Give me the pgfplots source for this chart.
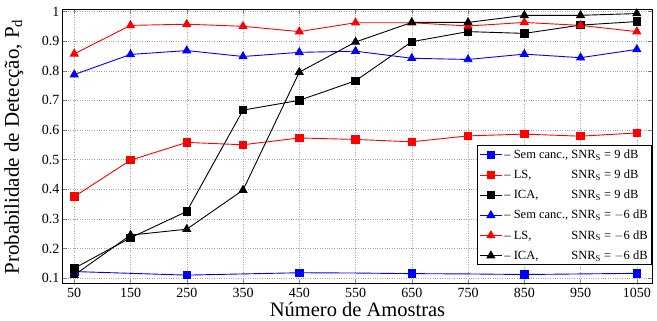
\documentclass[border=0pt]{standalone}
\usepackage{pgfplots}
\pgfplotsset{compat=1.18}
\usepackage{fontspec}
\setmainfont{Liberation Serif}
\newcommand{\legtxt}[2]{\setbox0\hbox{-- Sem canc.,\ }\makebox[\wd0][l]{-- #1}SNR$_{\mathrm{S}}$ = #2 dB}
\begin{document}
\begin{tikzpicture}
\path[use as bounding box] (-63pt,-37pt) rectangle (594pt,284pt);
\begin{axis}[
  at={(0,0)}, anchor=south west,
  width=589pt, height=274pt, scale only axis,
  xmin=30, xmax=1077, ymin=0.08, ymax=1.005,
  xtick={50,150,...,1050},
  ytick={0.1,0.2,...,1.0},
  yticklabels={0.1,0.2,0.3,0.4,0.5,0.6,0.7,0.8,0.9,1},
  /pgf/number format/assume math mode=true,
  /pgf/number format/set thousands separator={},
  tick label style={font=\fontsize{14}{14}\selectfont},
  xticklabel style={yshift=-1pt},
  xlabel={Número de Amostras},
  ylabel={Probabilidade de Detecção, P$_{\mathrm{d}}$},
  xlabel style={font=\fontsize{20.5}{20}\selectfont, at={(rel axis cs:0.5,0)}, anchor=north, yshift=-15pt},
  ylabel style={font=\fontsize{21}{20}\selectfont, at={(rel axis cs:0,0.5)}, anchor=south, yshift=36pt},
  grid=major,
  grid style={dotted, gray!70},
  tick align=inside,
  tick pos=both,
  major tick length=4pt,
  axis line style={line width=1pt},
  legend style={at={(1,0.069)}, anchor=south east, font=\fontsize{12.5}{14}\selectfont, draw=black, line width=0.6pt, row sep=6pt, inner sep=2pt},
  legend cell align=left,
  legend image code/.code={\draw[mark repeat=2,mark phase=2] plot coordinates {(0cm,0cm)(0.39cm,0cm)(0.78cm,0cm)};},
  every axis plot/.append style={line width=0.9pt, mark size=3.7pt},
]
\addplot[blue, mark=square*, mark repeat=2] coordinates {(50,0.122)(150,0.116)(250,0.110)(350,0.114)(450,0.118)(550,0.117)(650,0.115)(750,0.114)(850,0.112)(950,0.114)(1050,0.116)};
\addlegendentry{\legtxt{Sem canc.,}{9}}
\addplot[red, mark=square*] coordinates {(50,0.375)(150,0.498)(250,0.558)(350,0.550)(450,0.573)(550,0.568)(650,0.560)(750,0.580)(850,0.586)(950,0.579)(1050,0.590)};
\addlegendentry{\legtxt{LS,}{9}}
\addplot[black, mark=square*] coordinates {(50,0.133)(150,0.236)(250,0.325)(350,0.667)(450,0.700)(550,0.766)(650,0.898)(750,0.932)(850,0.926)(950,0.954)(1050,0.966)};
\addlegendentry{\legtxt{ICA,}{9}}
\addplot[blue, mark=triangle*, mark size=4.5pt] coordinates {(50,0.787)(150,0.855)(250,0.868)(350,0.848)(450,0.862)(550,0.866)(650,0.842)(750,0.838)(850,0.856)(950,0.844)(1050,0.872)};
\addlegendentry{\legtxt{Sem canc.,}{$-$6}}
\addplot[red, mark=triangle*, mark size=4.5pt] coordinates {(50,0.857)(150,0.953)(250,0.957)(350,0.950)(450,0.932)(550,0.962)(650,0.962)(750,0.951)(850,0.963)(950,0.953)(1050,0.932)};
\addlegendentry{\legtxt{LS,}{$-$6}}
\addplot[black, mark=triangle*, mark size=4.5pt] coordinates {(50,0.110)(150,0.245)(250,0.265)(350,0.397)(450,0.795)(550,0.897)(650,0.963)(750,0.963)(850,0.987)(950,0.987)(1050,0.993)};
\addlegendentry{\legtxt{ICA,}{$-$6}}
\end{axis}
\end{tikzpicture}
\end{document}
